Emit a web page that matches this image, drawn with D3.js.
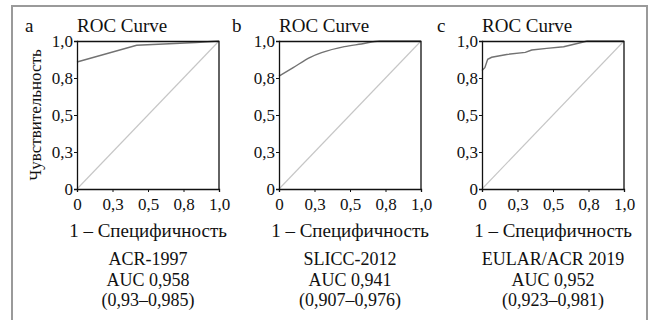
<!DOCTYPE html>
<meta charset="utf-8">
<style>
  body { margin: 0; background: #fff; }
</style>
<script src="https://d3js.org/d3.v7.min.js"></script>
<div id="chart"></div>
<script>
// panel labels and captions
var panelLetters = ["a", "b", "c"];
var panelNames = ["ACR-1997", "SLICC-2012", "EULAR/ACR 2019"];
var aucText = ["AUC 0,958", "AUC 0,941", "AUC 0,952"];
var ciText = ["(0,93\u20130,985)", "(0,907\u20130,976)", "(0,923\u20130,981)"];

// tick positions and their printed labels
var tickValues = [0, 0.25, 0.5, 0.75, 1];
var tickLabels = ["0", "0,3", "0,5", "0,8", "1,0"];

// ROC curves (1 - specificity, sensitivity)
var fprA = [0, 0.42, 0.84, 1];
var tprA = [0.858, 0.971, 0.99, 1];
var fprB = [0, 0.1, 0.22, 0.3, 0.46, 0.58, 0.71, 1];
var tprB = [0.762, 0.82, 0.89, 0.921, 0.962, 0.98, 1, 1];
var fprC = [0, 0.02, 0.04, 0.068, 0.174, 0.305, 0.35, 0.456, 0.575, 0.7, 0.74, 1];
var tprC = [0.80, 0.82, 0.876, 0.89, 0.909, 0.923, 0.939, 0.95, 0.961, 0.99, 1, 1];

var curves = [[fprA, tprA], [fprB, tprB], [fprC, tprC]];

var FONT = "'Liberation Serif', 'Times New Roman', serif";
var W = 649, H = 320;
var svg = d3.select("#chart").append("svg")
  .attr("width", W).attr("height", H)
  .style("font-family", FONT);

// grey frame around the whole figure
svg.append("rect")
  .attr("x", 12).attr("y", 6)
  .attr("width", 635).attr("height", 330)
  .attr("fill", "none")
  .attr("stroke", "#9a9a9a")
  .attr("stroke-width", 2);

var plotW = 142, plotH = 148, plotTop = 41;
var lefts = [77, 279, 482];
var letterX = [25, 232, 437];

function label(g, x, y, size, txt, anchor) {
  return g.append("text").attr("x", x).attr("y", y)
    .style("font-family", FONT).style("font-size", size + "px")
    .attr("fill", "#111").attr("text-anchor", anchor || "start")
    .text(txt);
}

lefts.forEach(function(left, i) {
  var g = svg.append("g").attr("transform", "translate(" + left + "," + plotTop + ")");

  var x = d3.scaleLinear().domain([0, 1]).range([0, plotW]);
  var y = d3.scaleLinear().domain([0, 1]).range([plotH, 0]);

  // diagonal reference line
  g.append("path")
    .attr("d", d3.line()([[x(0), y(0)], [x(1), y(1)]]))
    .attr("stroke", "#c6c6c6")
    .attr("stroke-width", 1.1)
    .attr("fill", "none");

  // roc curve
  var fpr = curves[i][0], tpr = curves[i][1];
  var pts = fpr.map(function(v, k) { return [x(v), y(tpr[k])]; });
  g.append("path")
    .attr("d", d3.line().curve(i == 1 ? d3.curveMonotoneX : d3.curveLinear)(pts))
    .attr("stroke", "#727272")
    .attr("stroke-width", 1.4)
    .attr("fill", "none");

  // box: top and right edges
  g.append("path")
    .attr("d", "M0,0.5H" + plotW + "V" + plotH)
    .attr("stroke", "#111").attr("fill", "none").attr("stroke-width", 1.3);

  // axes
  var fmt = function(d) { return tickLabels[tickValues.indexOf(d)]; };
  var ax = g.append("g").attr("transform", "translate(0," + plotH + ")")
    .call(d3.axisBottom(x).tickValues(tickValues).tickFormat(fmt).tickSize(3).tickPadding(6));
  var ay = g.append("g")
    .call(d3.axisLeft(y).tickValues(tickValues).tickFormat(fmt).tickSize(3).tickPadding(1));
  [ax, ay].forEach(function(a) {
    a.select(".domain").attr("stroke", "#111").attr("stroke-width", 1.3);
    a.selectAll(".tick line").attr("stroke", "#111");
    a.selectAll("text").attr("fill", "#111")
      .style("font-family", FONT).style("font-size", "17px");
  });

  // title and panel letter
  label(g, 0, -9, 19, "ROC Curve");
  label(g, letterX[i] - left, -9, 19, panelLetters[i]);

  // x axis title + caption
  var cx = plotW / 2;
  label(g, cx, plotH + 48, 19, "1 \u2013 Специфичность", "middle");
  [panelNames[i], aucText[i], ciText[i]].forEach(function(t, k) {
    label(g, cx, plotH + 76 + k * 20.5, 18, t, "middle");
  });

  if (i == 0) {
    label(g, 0, 0, 17, "Чувствительность", "middle")
      .attr("transform", "translate(-36," + (plotH / 2) + ") rotate(-90)");
  }
});
</script>
